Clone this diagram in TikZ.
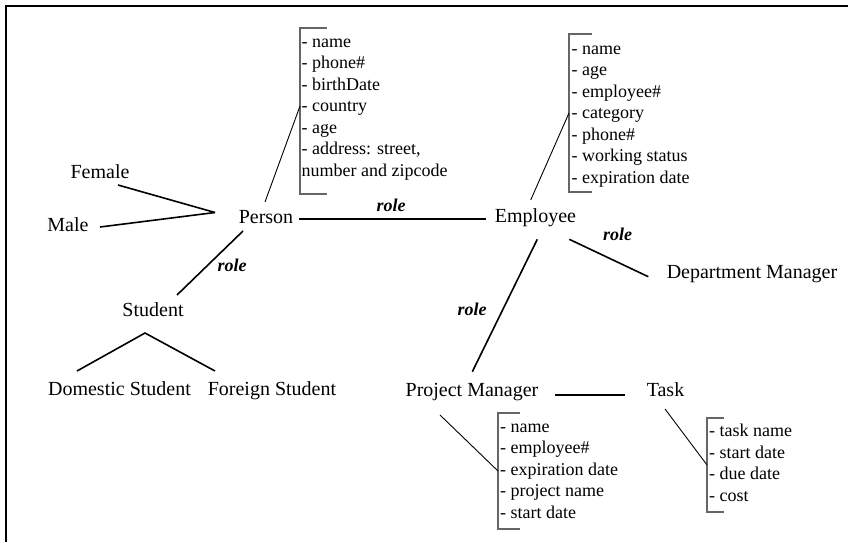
\documentclass[tikz,border=0pt]{standalone}
\usepackage{fontspec}
\setmainfont{Liberation Serif}
\begin{document}
\begin{tikzpicture}[x=1pt,y=-1pt,
  lbl/.style={font=\fontsize{20}{24}\selectfont, inner sep=0pt, anchor=base},
  rolelbl/.style={font=\fontsize{18}{22}\selectfont\bfseries\itshape, inner sep=0pt, anchor=base},
  attrs/.style={font=\fontsize{18}{21.5}\selectfont, inner sep=0pt, anchor=base west},
  attrbox/.style={inner sep=0pt, outer sep=0pt, anchor=north west},
  link/.style={line width=1.6pt},
  pointer/.style={line width=0.9pt},
  brk/.style={line width=1.2pt, draw=black!60}
]
\useasboundingbox (0,0) rectangle (848,542);

% frame
\draw[line width=1.5pt] (848,6) -- (6,6) -- (6,542);

% entities
\node[lbl] (female)   at (100,178)   {Female};
\node[lbl] (male)     at (68,231.5)  {Male};
\node[lbl] (person)   at (266,223)   {Person};
\node[lbl] (student)  at (153,316.5) {Student};
\node[lbl] (domestic) at (119.5,395) {Domestic Student};
\node[lbl] (foreign)  at (272,395)   {Foreign Student};
\node[lbl] (employee) at (535.5,222.5) {Employee};
\node[lbl] (dept)     at (752,278)   {Department Manager};
\node[lbl] (pm)       at (472,396)   {Project Manager};
\node[lbl] (task)     at (665.5,396) {Task};

% attribute brackets
\node[attrbox, minimum width=27pt, minimum height=166pt] (pbox) at (300,28) {};
\node[attrbox, minimum width=23pt, minimum height=158pt] (ebox) at (569,34) {};
\node[attrbox, minimum width=22pt, minimum height=116pt] (mbox) at (498,413) {};
\node[attrbox, minimum width=17pt, minimum height=94pt]  (tbox) at (707,418) {};
\foreach \b in {pbox,ebox,mbox,tbox}
  \draw[brk] (\b.north east) -- (\b.north west) -- (\b.south west) -- (\b.south east);

\node[attrs] (ptext) at ([shift={(1.5,19.3)}]pbox.north west) {\begin{tabular}[t]{@{}l@{}}
- name\\ - phone\#\\ - birthDate\\ - country\\ - age\\ - address: street,\\ number and zipcode
\end{tabular}};
\node[attrs] (etext) at ([shift={(2.5,20)}]ebox.north west) {\begin{tabular}[t]{@{}l@{}}
- name\\ - age\\ - employee\#\\ - category\\ - phone\#\\ - working status\\ - expiration date
\end{tabular}};
\node[attrs] (mtext) at ([shift={(2,19.3)}]mbox.north west) {\begin{tabular}[t]{@{}l@{}}
- name\\ - employee\#\\ - expiration date\\ - project name\\ - start date
\end{tabular}};
\node[attrs] (ttext) at ([shift={(2,18.7)}]tbox.north west) {\begin{tabular}[t]{@{}l@{}}
- task name\\ - start date\\ - due date\\ - cost
\end{tabular}};

% relationships
\draw[link] ([shift={(18,7)}]female.base) -- ([shift={(-51,-10.5)}]person.base);
\draw[link] ([shift={(32,-4.5)}]male.base) -- ([shift={(-51,-10.5)}]person.base);
\draw[link] ([shift={(-23,8)}]person.base) -- ([shift={(24,-21.5)}]student.base);
\draw[link] ([shift={(-42.5,-24)}]domestic.base) -- ([shift={(-8,16.5)}]student.base)
            -- ([shift={(-57,-24)}]foreign.base);
\draw[link] ([shift={(33,-4)}]person.base) -- ([shift={(-50,-3.5)}]employee.base);
\draw[link] ([shift={(33.8,16.8)}]employee.base) -- ([shift={(-103.7,-1.3)}]dept.base);
\draw[link] ([shift={(1.8,16.8)}]employee.base) -- ([shift={(0.3,-24.3)}]pm.base);
\draw[link] ([shift={(83,-1)}]pm.base) -- ([shift={(-40.5,-1)}]task.base);

% attribute pointers
\draw[pointer] ([shift={(-1,-21)}]person.base) -- ([yshift=5pt]pbox.west);
\draw[pointer] ([shift={(-4.8,-22.5)}]employee.base) -- (ebox.west);
\draw[pointer] ([shift={(-32,19)}]pm.base) -- (mbox.west);
\draw[pointer] ([shift={(-0.5,13)}]task.base) -- (tbox.west);

% role labels
\node[rolelbl] (r1) at (391,211.7) {role};
\node[rolelbl] (r2) at (232,271.7) {role};
\node[rolelbl] (r3) at (617.7,240) {role};
\node[rolelbl] (r4) at (472,315)   {role};
\end{tikzpicture}
\end{document}
